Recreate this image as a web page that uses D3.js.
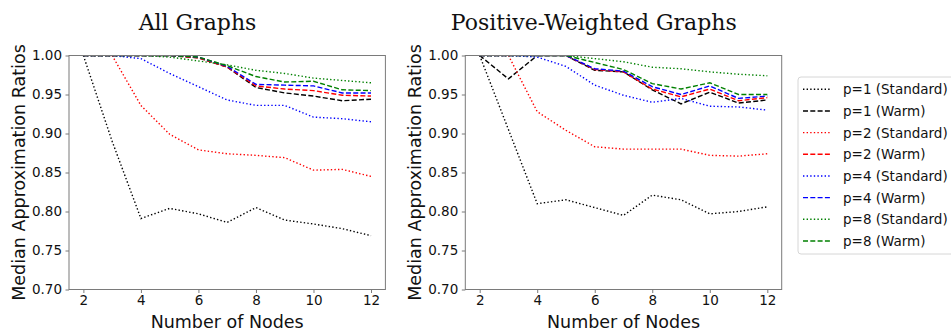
<!DOCTYPE html>
<html>
<head>
<meta charset="utf-8">
<script src="https://cdn.jsdelivr.net/npm/d3@7"></script>
<style>
  body { margin: 0; background: #fff; }
  svg { display: block; }
</style>
</head>
<body>
<div id="chart"></div>
<script>

  // ---------------------------//
  //            DATA            //
  // ---------------------------//

  var nodes = [2, 3, 4, 5, 6, 7, 8, 9, 10, 11, 12];
  var yTicks = [0.70, 0.75, 0.80, 0.85, 0.90, 0.95, 1.00];
  var xTicks = [2, 4, 6, 8, 10, 12];

  var seriesLabels = ["p=1 (Standard)", "p=1 (Warm)", "p=2 (Standard)", "p=2 (Warm)",
                      "p=4 (Standard)", "p=4 (Warm)", "p=8 (Standard)", "p=8 (Warm)"];
  var seriesColors = ["black", "black", "red", "red", "blue", "blue", "green", "green"];
  var seriesStyles = ["dot", "dash", "dot", "dash", "dot", "dash", "dot", "dash"];

  // All Graphs
  var allP1Std  = [1.000, 0.890, 0.791, 0.804, 0.797, 0.786, 0.805, 0.789, 0.784, 0.778, 0.769];
  var allP1Warm = [1.000, 1.000, 1.000, 1.000, 0.997, 0.985, 0.959, 0.952, 0.948, 0.942, 0.944];
  var allP2Std  = [1.000, 1.000, 0.936, 0.899, 0.879, 0.874, 0.872, 0.869, 0.853, 0.854, 0.845];
  var allP2Warm = [1.000, 1.000, 1.000, 1.000, 0.997, 0.985, 0.961, 0.957, 0.955, 0.949, 0.948];
  var allP4Std  = [1.000, 1.000, 0.996, 0.977, 0.960, 0.943, 0.936, 0.936, 0.921, 0.919, 0.915];
  var allP4Warm = [1.000, 1.000, 1.000, 1.000, 0.998, 0.986, 0.963, 0.962, 0.961, 0.952, 0.952];
  var allP8Std  = [1.000, 1.000, 1.000, 0.998, 0.993, 0.988, 0.981, 0.977, 0.971, 0.968, 0.965];
  var allP8Warm = [1.000, 1.000, 1.000, 1.000, 0.998, 0.987, 0.973, 0.966, 0.967, 0.956, 0.955];

  // Positive-Weighted Graphs
  var posP1Std  = [1.000, 0.905, 0.810, 0.815, 0.805, 0.795, 0.821, 0.815, 0.797, 0.800, 0.806];
  var posP1Warm = [1.000, 0.970, 1.000, 1.000, 0.981, 0.979, 0.956, 0.938, 0.953, 0.939, 0.943];
  var posP2Std  = [1.000, 1.000, 0.928, 0.904, 0.883, 0.880, 0.880, 0.880, 0.872, 0.871, 0.874];
  var posP2Warm = [1.000, 1.000, 1.000, 1.000, 0.982, 0.979, 0.957, 0.947, 0.957, 0.942, 0.946];
  var posP4Std  = [1.000, 1.000, 0.998, 0.986, 0.962, 0.949, 0.940, 0.945, 0.935, 0.934, 0.930];
  var posP4Warm = [1.000, 1.000, 1.000, 1.000, 0.983, 0.980, 0.960, 0.950, 0.961, 0.945, 0.948];
  var posP8Std  = [1.000, 1.000, 1.000, 1.000, 0.996, 0.992, 0.985, 0.983, 0.979, 0.976, 0.974];
  var posP8Warm = [1.000, 1.000, 1.000, 1.000, 0.991, 0.982, 0.964, 0.957, 0.965, 0.950, 0.950];

  var panels = [
    { title: "All Graphs", left: 69,
      series: [allP1Std, allP1Warm, allP2Std, allP2Warm, allP4Std, allP4Warm, allP8Std, allP8Warm] },
    { title: "Positive-Weighted Graphs", left: 465.3,
      series: [posP1Std, posP1Warm, posP2Std, posP2Warm, posP4Std, posP4Warm, posP8Std, posP8Warm] }
  ];

  // ---------------------------//
  //         DIMENSIONS         //
  // ---------------------------//

  var width = 951;
  var height = 330;
  var plotW = 316.4;
  var plotTop = 55.5;
  var plotBottom = 289.5;
  var dashes = { dot: "1.4,2.2", dash: "5,2.3" };
  var sans = "'DejaVu Sans', sans-serif";

  var svg = d3.select("#chart")
    .append("svg")
    .attr("width", width)
    .attr("height", height)
    .attr("viewBox", [0, 0, width, height]);

  var y = d3.scaleLinear()
    .domain([0.70, 1.00])
    .range([plotBottom, plotTop]);

  // ---------------------------//
  //           PANELS           //
  // ---------------------------//

  panels.forEach(function(p, pi) {
    var x = d3.scaleLinear()
      .domain([1.5, 12.5])
      .range([p.left, p.left + plotW]);

    var clipId = "clip" + pi;
    svg.append("clipPath").attr("id", clipId)
      .append("rect")
      .attr("x", p.left).attr("y", plotTop)
      .attr("width", plotW).attr("height", plotBottom - plotTop);

    var line = d3.line()
      .x(function(d, i) { return x(nodes[i]); })
      .y(function(d) { return y(d); });

    var g = svg.append("g").attr("clip-path", "url(#" + clipId + ")");
    p.series.forEach(function(vals, si) {
      g.append("path")
        .datum(vals)
        .attr("fill", "none")
        .attr("stroke", seriesColors[si])
        .attr("stroke-width", 1.4)
        .attr("stroke-dasharray", dashes[seriesStyles[si]])
        .attr("d", line);
    });

    // frame
    svg.append("rect")
      .attr("x", p.left).attr("y", plotTop)
      .attr("width", plotW).attr("height", plotBottom - plotTop)
      .attr("fill", "none")
      .attr("stroke", "#7a7a7a")
      .attr("stroke-width", 1);

    var xAxis = svg.append("g")
      .attr("transform", "translate(0," + plotBottom + ")")
      .call(d3.axisBottom(x).tickValues(xTicks).tickSize(3.5).tickPadding(2.5));

    var yAxis = svg.append("g")
      .attr("transform", "translate(" + p.left + ",0)")
      .call(d3.axisLeft(y).tickValues(yTicks).tickSize(3.5).tickPadding(3.5)
        .tickFormat(d3.format(".2f")));

    [xAxis, yAxis].forEach(function(a) {
      a.select(".domain").remove();
      a.selectAll(".tick line").attr("stroke", "#7a7a7a");
      a.selectAll("text")
        .style("font-family", sans)
        .style("font-size", "13.5px")
        .attr("fill", "#111");
    });

    // title
    svg.append("text")
      .attr("x", p.left + 128.5)
      .attr("y", 30)
      .attr("text-anchor", "middle")
      .style("font-family", "'DejaVu Serif', serif")
      .style("font-size", "22px")
      .attr("fill", "#111")
      .text(p.title);

    // axis labels
    svg.append("text")
      .attr("x", p.left + plotW / 2)
      .attr("y", 327.5)
      .attr("text-anchor", "middle")
      .style("font-family", sans)
      .style("font-size", "17.5px")
      .attr("fill", "#111")
      .text("Number of Nodes");

    svg.append("text")
      .attr("transform", "translate(" + (p.left - 44) + "," + ((plotTop + plotBottom) / 2) + ") rotate(-90)")
      .attr("text-anchor", "middle")
      .style("font-family", sans)
      .style("font-size", "17.5px")
      .attr("fill", "#111")
      .text("Median Approximation Ratios");
  });

  // ---------------------------//
  //           LEGEND           //
  // ---------------------------//

  var legend = svg.append("g");

  legend.append("rect")
    .attr("x", 798).attr("y", 77)
    .attr("width", 200).attr("height", 177)
    .attr("rx", 3)
    .attr("fill", "white")
    .attr("stroke", "#d6d6d6")
    .attr("stroke-width", 1);

  seriesLabels.forEach(function(lab, i) {
    var cy = 89.3 + i * 21.67;
    legend.append("line")
      .attr("x1", 803).attr("x2", 830)
      .attr("y1", cy).attr("y2", cy)
      .attr("stroke", seriesColors[i])
      .attr("stroke-width", 1.4)
      .attr("stroke-dasharray", dashes[seriesStyles[i]]);
    legend.append("text")
      .attr("x", 843)
      .attr("y", cy)
      .attr("dy", "0.36em")
      .style("font-family", sans)
      .style("font-size", "13.5px")
      .attr("fill", "#111")
      .text(lab);
  });

</script>
</body>
</html>
